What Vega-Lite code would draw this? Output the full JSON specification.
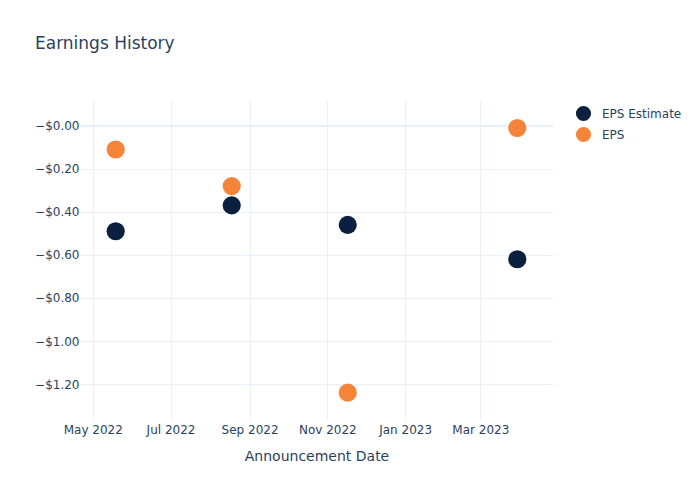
{
  "$schema": "https://vega.github.io/schema/vega-lite/v6.json",
  "width": 473,
  "height": 320,
  "autosize": {"type": "none"},
  "padding": {"left": 80, "top": 100, "right": 147, "bottom": 80},
  "background": "white",
  "config": {
    "font": "DejaVu Sans",
    "view": {"stroke": null},
    "axis": {"labelColor": "#2a3f5f", "titleColor": "#2a3f5f", "gridColor": "#EBF0F8", "domain": false, "ticks": false, "labelFontSize": 12, "titleFontWeight": "normal", "titleFontSize": 14}
  },
  "title": {"text": "Earnings History", "anchor": "start", "frame": "group", "dx": -45, "offset": 47, "fontSize": 17, "fontWeight": "normal", "color": "#2a3f5f"},
  "data": {
    "values": [
      {"date": "2022-05-19", "Type": "EPS Estimate", "value": -0.49},
      {"date": "2022-08-18", "Type": "EPS Estimate", "value": -0.37},
      {"date": "2022-11-17", "Type": "EPS Estimate", "value": -0.46},
      {"date": "2023-03-30", "Type": "EPS Estimate", "value": -0.62},
      {"date": "2022-05-19", "Type": "EPS", "value": -0.11},
      {"date": "2022-08-18", "Type": "EPS", "value": -0.28},
      {"date": "2022-11-17", "Type": "EPS", "value": -1.24},
      {"date": "2023-03-30", "Type": "EPS", "value": -0.01}
    ]
  },
  "layer": [
    {
      "data": {"values": [{"z": 0}]},
      "mark": {"type": "rule", "color": "#EBF0F8", "strokeWidth": 2},
      "encoding": {"y": {"field": "z", "type": "quantitative", "scale": {"domain": [-1.367, 0.12]}}}
    },
    {
      "mark": {"type": "circle", "opacity": 1, "size": 330},
      "encoding": {
        "x": {
          "field": "date", "type": "temporal",
          "scale": {"type": "utc", "domain": ["2022-04-21", "2023-04-27"]},
          "axis": {
            "title": "Announcement Date", "format": "%b %Y", "labelPadding": 4, "titlePadding": 14,
            "values": [
              {"year": 2022, "month": 5, "date": 1, "utc": true},
              {"year": 2022, "month": 7, "date": 1, "utc": true},
              {"year": 2022, "month": 9, "date": 1, "utc": true},
              {"year": 2022, "month": 11, "date": 1, "utc": true},
              {"year": 2023, "month": 1, "date": 1, "utc": true},
              {"year": 2023, "month": 3, "date": 1, "utc": true}
            ]
          }
        },
        "y": {
          "field": "value", "type": "quantitative",
          "scale": {"domain": [-1.367, 0.12], "nice": false, "zero": false},
          "axis": {"title": null, "values": [0, -0.2, -0.4, -0.6, -0.8, -1.0, -1.2], "labelPadding": 1, "labelExpr": "datum.value <= 0 ? '−$' + format(abs(datum.value), '.2f') : '$' + format(datum.value, '.2f')"}
        },
        "color": {
          "field": "Type", "type": "nominal",
          "scale": {"domain": ["EPS Estimate", "EPS"], "range": ["#0b1f40", "#f58338"]},
          "legend": {"title": null, "orient": "none", "legendX": 495, "legendY": 5, "symbolType": "circle", "symbolSize": 230, "labelFontSize": 12, "labelColor": "#2a3f5f", "rowPadding": 4, "labelOffset": 10}
        }
      }
    }
  ]
}
